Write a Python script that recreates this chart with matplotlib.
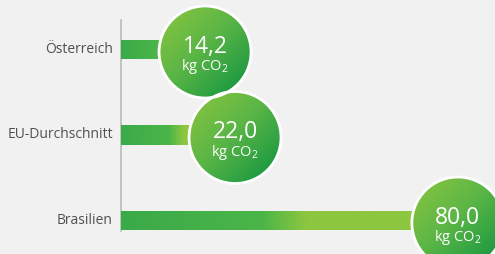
import numpy as np
import matplotlib.pyplot as plt
from matplotlib.patches import Ellipse, Rectangle
from matplotlib.colors import LinearSegmentedColormap

# data
countries = ["Österreich", "EU-Durchschnitt", "Brasilien"]
values = [14.2, 22.0, 80.0]
value_labels = ["14,2", "22,0", "80,0"]
unit = "kg CO$_2$"

bg = "#f0f1f0"
bar_cmap = LinearSegmentedColormap.from_list(
    "bar", [(0, "#3aaa48"), (0.42, "#4bb548"), (0.55, "#8dc63f"), (1, "#8dc63f")])
circ_cmap = LinearSegmentedColormap.from_list(
    "circ", [(0, "#8dc63f"), (0.45, "#5cb646"), (1, "#0a9140")])

plt.rcParams["mathtext.fontset"] = "custom"
plt.rcParams["mathtext.rm"] = "Open Sans"
plt.rcParams["mathtext.it"] = "Open Sans"

fig = plt.figure(figsize=(4.95, 2.55), dpi=100)
fig.patch.set_facecolor(bg)
ax = fig.add_axes([0, 0, 1, 1])
ax.set_facecolor(bg)

# pixel scale: x px = 150.5 + 3.842 * value, y px = 50.5 + 85.5 * row
px_x = 3.842
px_y = 85.5
x0 = (121 - 150.5) / px_x
ax.set_xlim(-150.5 / px_x, (495 - 150.5) / px_x)
ax.set_ylim((255 - 50.5) / px_y, -50.5 / px_y)
ax.axis("off")

# axis line
ax.plot([x0, x0], [(21 - 50.5) / px_y, (232 - 50.5) / px_y], color="#b8bcb8", lw=1.2, zorder=1)

bar_h = 20 / px_y
r_x = 46 / px_x
r_y = 46 / px_y
grad_h = np.linspace(0, 1, 256).reshape(1, -1)
gx, gy = np.meshgrid(np.linspace(0, 1, 200), np.linspace(0, 1, 200))
grad_d = (gx + gy) / 2

for i, (name, v, lab) in enumerate(zip(countries, values, value_labels)):
    left = x0 + 0.5 / px_x
    rect = Rectangle((left, i - bar_h / 2), v - left, bar_h, facecolor="none", edgecolor="none")
    ax.add_patch(rect)
    im = ax.imshow(grad_h, cmap=bar_cmap, aspect="auto", zorder=2,
                   extent=[left, v, i + bar_h / 2, i - bar_h / 2])
    im.set_clip_path(rect)

    cy = i + 2.5 / px_y
    circ = Ellipse((v, cy), 2 * r_x, 2 * r_y, facecolor="none", edgecolor="white", lw=2, zorder=4)
    ax.add_patch(circ)
    im2 = ax.imshow(grad_d, cmap=circ_cmap, aspect="auto", zorder=3,
                    extent=[v - r_x, v + r_x, cy + r_y, cy - r_y])
    im2.set_clip_path(circ)

    ax.text(v, cy - 6 / px_y, lab, color="white", fontsize=16.5, ha="center", va="center",
            family="Open Sans", zorder=5)
    ax.text(v, cy + 14 / px_y, unit, color="white", fontsize=10.5, ha="center", va="center",
            family="Open Sans", zorder=5)

    ax.text(x0 - 8 / px_x, i - 1 / px_y, name, color="#505050", fontsize=10, ha="right",
            va="center", family="Open Sans")

fig.savefig("out.png", dpi=100, facecolor=bg)
